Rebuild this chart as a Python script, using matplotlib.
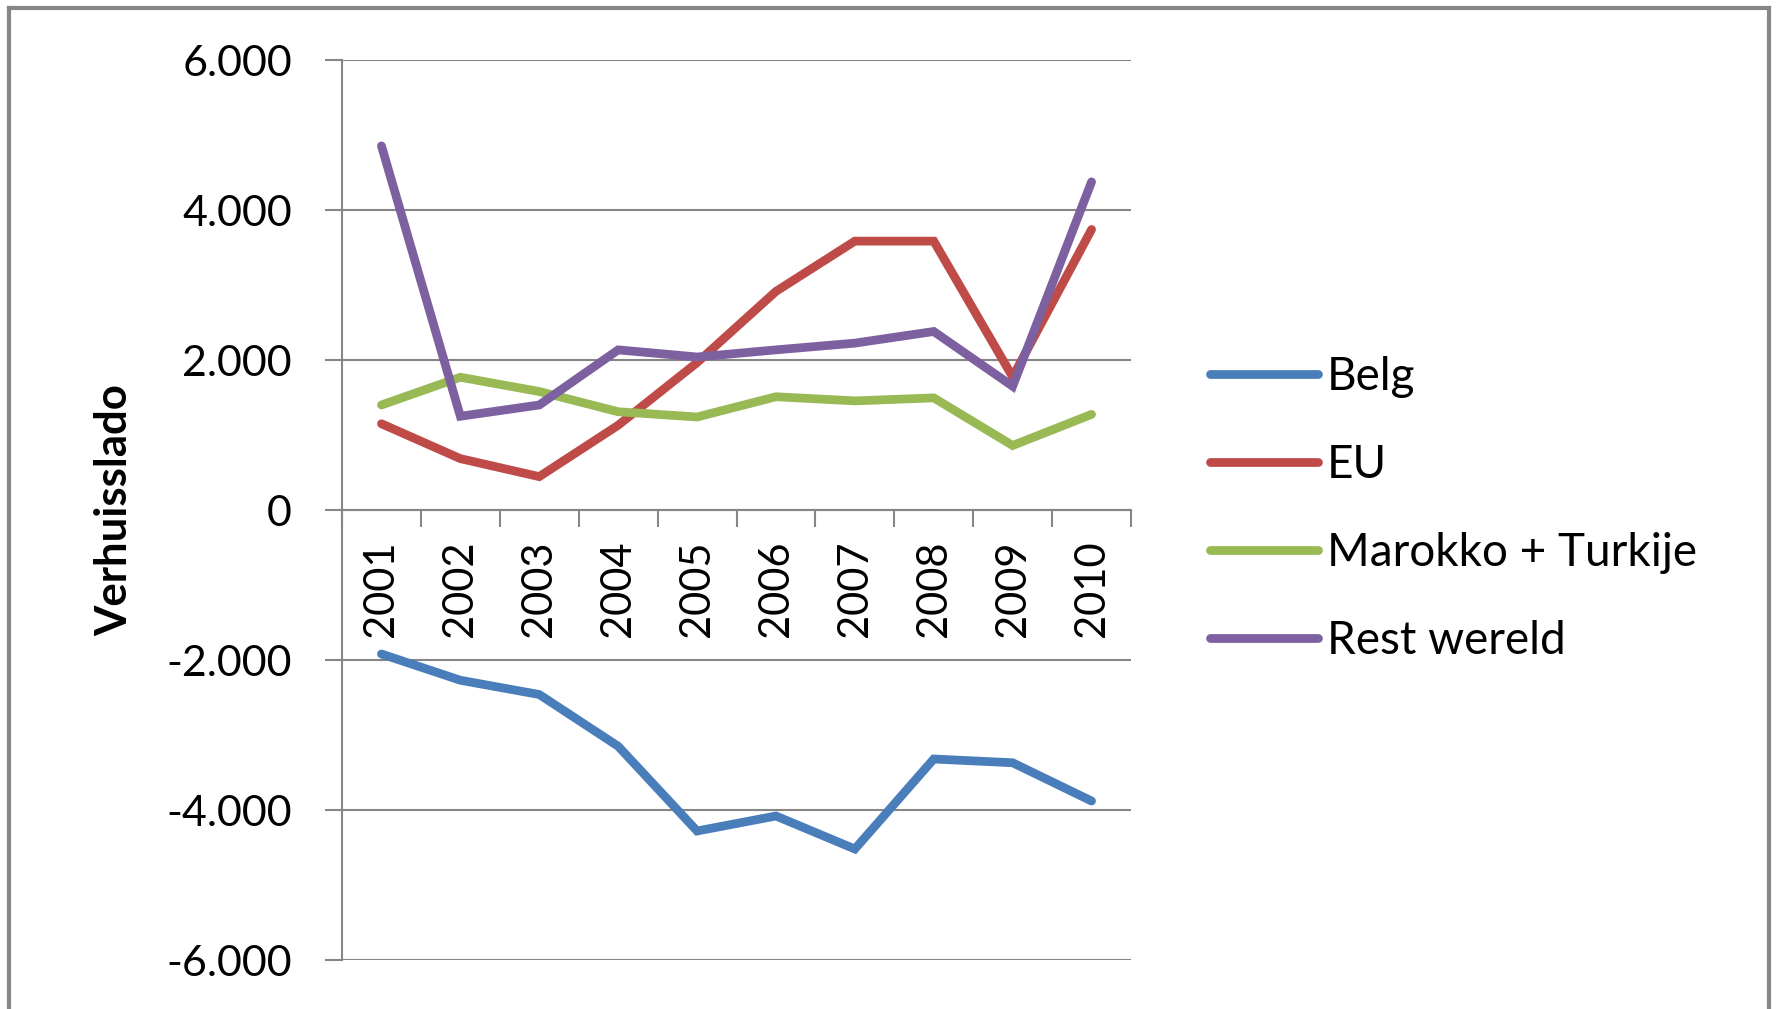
import matplotlib
matplotlib.use("Agg")
import matplotlib.pyplot as plt
from matplotlib.lines import Line2D
from matplotlib.ticker import FuncFormatter

plt.rcParams['font.family'] = ['Lato', 'DejaVu Sans']

# Verhuissaldo per groep, 2001-2010
jaren = ['2001', '2002', '2003', '2004', '2005', '2006', '2007', '2008', '2009', '2010']
belg = [-1920, -2270, -2460, -3150, -4280, -4080, -4520, -3320, -3370, -3880]
eu = [1150, 685, 445, 1130, 1965, 2915, 3585, 3585, 1775, 3740]
marokko_turkije = [1400, 1770, 1580, 1310, 1240, 1510, 1455, 1495, 860, 1275]
rest_wereld = [4855, 1250, 1400, 2135, 2040, 2135, 2225, 2380, 1650, 4375]

reeksen = ['Belg', 'EU', 'Marokko + Turkije', 'Rest wereld']
kleuren = ['#4A7EBB', '#BE4B48', '#98B954', '#7D60A0']
grijs = '#868686'

fig = plt.figure(figsize=(17.77, 10.09), dpi=100)
ax = fig.add_axes([342 / 1777, 1 - 960 / 1009, (1131 - 342) / 1777, 900 / 1009])

x = list(range(1, len(jaren) + 1))
for waarden, naam, kleur in zip([belg, eu, marokko_turkije, rest_wereld], reeksen, kleuren):
    ax.plot(x, waarden, color=kleur, linewidth=6.3, label=naam,
            solid_capstyle='round', solid_joinstyle='miter')

ax.set_xlim(0.5, len(jaren) + 0.5)
ax.set_ylim(-6000, 6000)
ax.set_yticks(range(-6000, 6001, 2000))
ax.yaxis.set_major_formatter(FuncFormatter(lambda v, p: f"{int(v):,}".replace(',', '.')))
ax.grid(axis='y', color=grijs, linewidth=1.5)
ax.set_axisbelow(True)

# x-as op nul, streepjes tussen de categorieen
for s in ['top', 'right']:
    ax.spines[s].set_visible(False)
ax.spines['bottom'].set_position(('data', 0))
ax.spines['bottom'].set_color(grijs)
ax.spines['bottom'].set_linewidth(1.5)
ax.spines['left'].set_color(grijs)
ax.spines['left'].set_linewidth(1.5)

ax.set_xticks([i + 0.5 for i in range(len(jaren) + 1)])
ax.set_xticklabels([])
ax.set_xticks(x, minor=True)
ax.set_xticklabels(jaren, minor=True, rotation=90, fontsize=30)
ax.tick_params(axis='x', which='major', direction='out', length=12, width=1.5, color=grijs)
ax.tick_params(axis='x', which='minor', length=0, pad=22)
ax.tick_params(axis='y', direction='out', length=12, width=1.5, color=grijs,
               labelsize=31, pad=24)

ax.set_ylabel('Verhuisslado', fontsize=31.5, fontweight='bold')
ax.yaxis.set_label_coords(-0.263, 0.5)

ax.legend(loc='center left', bbox_to_anchor=(1210 / 1777, 0.4955),
          bbox_transform=fig.transFigure, frameon=False, fontsize=33,
          handlelength=2.35, handletextpad=0.2, labelspacing=1.0,
          borderpad=0, borderaxespad=0)

# grijze rand om de grafiek (onderkant valt buiten beeld)
for xs, ys in [([9, 9], [0, 1001]), ([9, 1769], [1001, 1001]), ([1769, 1769], [1001, 0])]:
    fig.add_artist(Line2D([v / 1777 for v in xs], [v / 1009 for v in ys],
                          color=grijs, linewidth=3, transform=fig.transFigure))

fig.savefig('out.png', dpi=100)
